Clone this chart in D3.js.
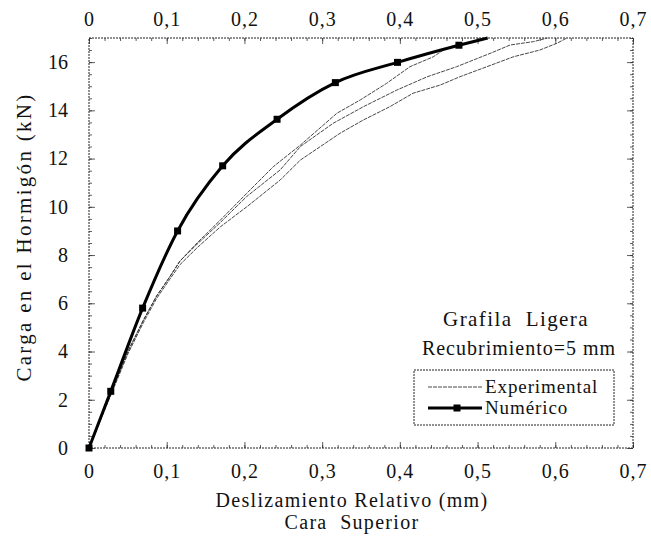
<!DOCTYPE html>
<html>
<head>
<meta charset="utf-8">
<script src="https://cdn.jsdelivr.net/npm/d3@7"></script>
<style>
  body { margin: 0; background: #fff; }
  text { font-family: "Liberation Serif", "DejaVu Serif", serif; fill: #111; white-space: pre; }
</style>
</head>
<body>
<svg id="chart" width="651" height="538"></svg>
<script>
// data
let xTicks = [0, 0.1, 0.2, 0.3, 0.4, 0.5, 0.6, 0.7];
let yTicks = [0, 2, 4, 6, 8, 10, 12, 14, 16];

let numX = [0, 0.028, 0.069, 0.114, 0.172, 0.242, 0.317, 0.397, 0.476, 0.513];
let numY = [0, 2.35, 5.8, 9.0, 11.7, 13.63, 15.15, 15.99, 16.7, 17.0];

let expAX = [0, 0.025, 0.05, 0.07, 0.087, 0.104, 0.117, 0.139, 0.169, 0.203, 0.237, 0.272, 0.319, 0.349, 0.383, 0.413, 0.443, 0.456, 0.47];
let expAY = [0, 2.0, 4.0, 5.3, 6.3, 7.1, 7.75, 8.5, 9.45, 10.56, 11.66, 12.56, 13.88, 14.43, 15.12, 15.81, 16.22, 16.5, 16.7];

let expBX = [0, 0.025, 0.05, 0.07, 0.087, 0.104, 0.117, 0.139, 0.169, 0.203, 0.246, 0.272, 0.314, 0.353, 0.396, 0.435, 0.473, 0.516, 0.542, 0.572, 0.59];
let expBY = [0, 2.0, 4.0, 5.3, 6.3, 7.1, 7.75, 8.45, 9.35, 10.43, 11.53, 12.5, 13.46, 14.15, 14.84, 15.39, 15.81, 16.36, 16.71, 16.85, 17.0];

let expCX = [0, 0.025, 0.05, 0.07, 0.087, 0.104, 0.117, 0.139, 0.169, 0.203, 0.246, 0.272, 0.323, 0.353, 0.387, 0.417, 0.452, 0.477, 0.512, 0.546, 0.58, 0.602, 0.615];
let expCY = [0, 1.95, 3.9, 5.2, 6.2, 7.0, 7.6, 8.3, 9.17, 10.0, 11.11, 11.94, 13.05, 13.6, 14.15, 14.71, 15.05, 15.39, 15.81, 16.22, 16.5, 16.78, 17.0];

let seriesNames = ["Experimental", "Numérico"];

let svg = d3.select("#chart");
let margin = {top: 38, right: 18, bottom: 90, left: 89};
let W = 651, H = 538;

let x = d3.scaleLinear().domain([0, 0.7]).range([margin.left, W - margin.right]);
let y = d3.scaleLinear().domain([0, 17]).range([H - margin.bottom, margin.top]);

let fmt = d => d == 0 ? "0" : d3.format(".1f")(d).replace(".", ",");

let xMinor = d3.range(0, 0.7001, 0.02);
let yMinor = d3.range(0, 17.001, 0.5);

// axes, ticks pointing inward
let axBottom = svg.append("g").attr("transform", `translate(0,${y(0)})`)
    .call(d3.axisBottom(x).tickValues(xTicks).tickFormat(fmt).tickSizeInner(-6).tickSizeOuter(0).tickPadding(16));
let axTop = svg.append("g").attr("transform", `translate(0,${y(17)})`)
    .call(d3.axisTop(x).tickValues(xTicks).tickFormat(fmt).tickSizeInner(-6).tickSizeOuter(0).tickPadding(12));
let axLeft = svg.append("g").attr("transform", `translate(${x(0)},0)`)
    .call(d3.axisLeft(y).tickValues(yTicks).tickFormat(d3.format("d")).tickSizeInner(-6).tickSizeOuter(0).tickPadding(21));
let axRight = svg.append("g").attr("transform", `translate(${x(0.7)},0)`)
    .call(d3.axisRight(y).tickValues(yTicks).tickFormat("").tickSizeInner(-6).tickSizeOuter(0));

svg.append("g").attr("transform", `translate(0,${y(0)})`)
    .call(d3.axisBottom(x).tickValues(xMinor).tickFormat("").tickSizeInner(-3).tickSizeOuter(0));
svg.append("g").attr("transform", `translate(0,${y(17)})`)
    .call(d3.axisTop(x).tickValues(xMinor).tickFormat("").tickSizeInner(-3).tickSizeOuter(0));
svg.append("g").attr("transform", `translate(${x(0)},0)`)
    .call(d3.axisLeft(y).tickValues(yMinor).tickFormat("").tickSizeInner(-3).tickSizeOuter(0));
svg.append("g").attr("transform", `translate(${x(0.7)},0)`)
    .call(d3.axisRight(y).tickValues(yMinor).tickFormat("").tickSizeInner(-3).tickSizeOuter(0));

svg.selectAll(".domain").remove();
svg.selectAll(".tick line").attr("stroke", "#333").attr("stroke-width", 0.8);
svg.selectAll(".tick text").attr("font-size", 20).attr("font-family", "Liberation Serif").attr("fill", "#111").attr("letter-spacing", 1);
axLeft.selectAll(".tick text").attr("letter-spacing", 0);

// frame (scanned look: dotted)
svg.append("rect")
    .attr("x", x(0)).attr("y", y(17))
    .attr("width", x(0.7) - x(0)).attr("height", y(0) - y(17))
    .attr("fill", "none").attr("stroke", "#222").attr("stroke-width", 1)
    .attr("stroke-dasharray", "2,1");

// experimental curves
let expLine = d3.line().x(d => x(d[0])).y(d => y(d[1]));
for (let s of [[expAX, expAY], [expBX, expBY], [expCX, expCY]]) {
    svg.append("path")
        .datum(s[0].map((v, i) => [v, s[1][i]]))
        .attr("fill", "none")
        .attr("stroke", "#333")
        .attr("stroke-width", 0.9)
        .attr("stroke-dasharray", "4,1")
        .attr("d", expLine);
}

// numeric curve
let numData = numX.map((v, i) => [v, numY[i]]);
let numLine = d3.line().x(d => x(d[0])).y(d => y(d[1])).curve(d3.curveMonotoneX);
svg.append("path")
    .datum(numData)
    .attr("fill", "none")
    .attr("stroke", "#000")
    .attr("stroke-width", 3)
    .attr("d", numLine);
svg.selectAll(".marker")
    .data(numData.slice(0, numData.length - 1))
    .enter().append("rect")
    .attr("class", "marker")
    .attr("x", d => x(d[0]) - 3.5).attr("y", d => y(d[1]) - 3.5)
    .attr("width", 7).attr("height", 7)
    .attr("fill", "#000");

// axis titles
svg.append("text")
    .attr("transform", `translate(31,237) rotate(-90)`)
    .attr("text-anchor", "middle").attr("font-size", 21).attr("letter-spacing", 2.3)
    .text("Carga en el Hormigón (kN)");
svg.append("text")
    .attr("x", 352).attr("y", 507)
    .attr("text-anchor", "middle").attr("font-size", 20).attr("letter-spacing", 1.3)
    .text("Deslizamiento Relativo (mm)");
svg.append("text")
    .attr("x", 352).attr("y", 529)
    .attr("text-anchor", "middle").attr("font-size", 20).attr("letter-spacing", 1.3)
    .text("Cara  Superior");

// annotations
svg.append("text")
    .attr("x", 516).attr("y", 326)
    .attr("text-anchor", "middle").attr("font-size", 21).attr("letter-spacing", 1.4)
    .text("Grafila  Ligera");
svg.append("text")
    .attr("x", 519).attr("y", 355)
    .attr("text-anchor", "middle").attr("font-size", 20).attr("letter-spacing", 1.0)
    .text("Recubrimiento=5 mm");

// legend
let lg = svg.append("g");
lg.append("rect")
    .attr("x", 414).attr("y", 370).attr("width", 200).attr("height", 55)
    .attr("fill", "#fff").attr("stroke", "#222").attr("stroke-width", 1)
    .attr("stroke-dasharray", "2,1");
let rows = [393, 414];
lg.append("line").attr("x1", 428).attr("x2", 482).attr("y1", rows[0] - 6).attr("y2", rows[0] - 6)
    .attr("stroke", "#333").attr("stroke-width", 0.9).attr("stroke-dasharray", "4,1");
lg.append("line").attr("x1", 428).attr("x2", 482).attr("y1", rows[1] - 6).attr("y2", rows[1] - 6)
    .attr("stroke", "#000").attr("stroke-width", 3);
lg.append("rect").attr("x", 453.5).attr("y", rows[1] - 9.5).attr("width", 7).attr("height", 7).attr("fill", "#000");
lg.selectAll(".lgtext")
    .data(seriesNames)
    .enter().append("text")
    .attr("x", 485).attr("y", (d, i) => rows[i])
    .attr("font-size", 19).attr("letter-spacing", 0.9)
    .text(d => d);
</script>
</body>
</html>
